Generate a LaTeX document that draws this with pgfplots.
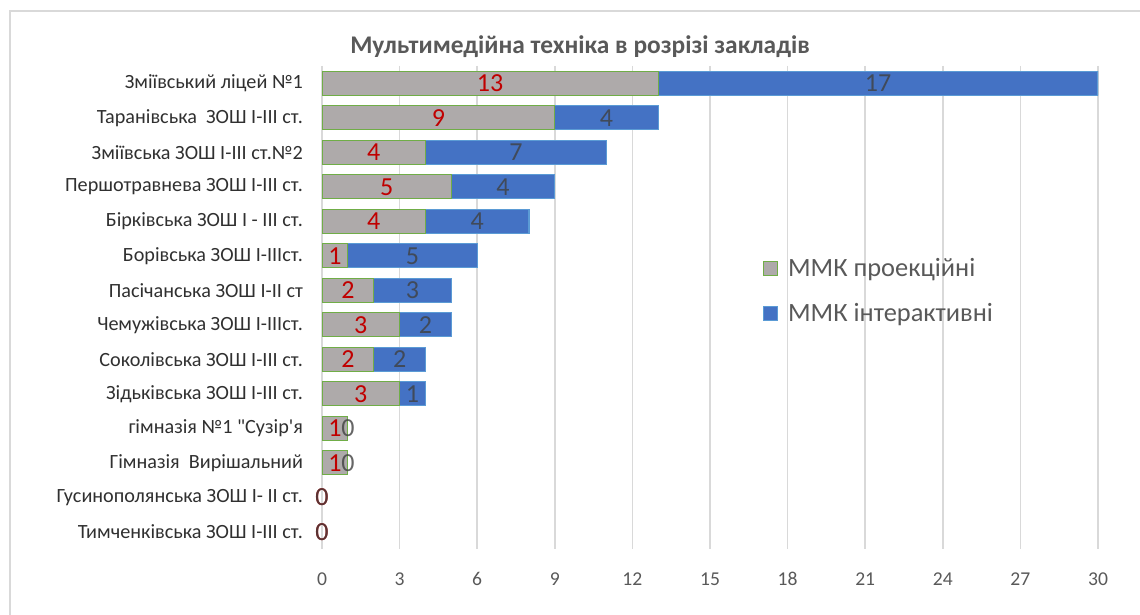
\documentclass[border=0pt]{standalone}
\usepackage{fontspec}
\setmainfont{Carlito}[Ligatures=TeXOff]
\usepackage{pgfplots}
\pgfplotsset{compat=1.18}
\usepackage{pgfplotstable}
\definecolor{projgray}{RGB}{174,170,170}
\definecolor{projedge}{RGB}{112,173,71}
\definecolor{interblue}{RGB}{68,114,196}
\definecolor{interedge}{RGB}{91,155,213}
\definecolor{gridgray}{RGB}{217,217,217}
\definecolor{txtgray}{RGB}{89,89,89}
\definecolor{catgray}{RGB}{48,48,48}
\definecolor{lblred}{RGB}{192,0,0}
\definecolor{lbldark}{RGB}{64,64,64}

% row, projection MMK, interactive MMK
\pgfplotstableread{
row a b
0 13 17
1 9 4
2 4 7
3 5 4
4 4 4
5 1 5
6 2 3
7 3 2
8 2 2
9 3 1
10 1 0
11 1 0
12 0 0
13 0 0
}\schools

\pgfplotsset{frame/.style={
  at={(161pt,33pt)}, anchor=south west,
  scale only axis, width=388pt, height=241.5pt,
  y dir=reverse,
  xmin=0, xmax=30, ymin=-0.5, ymax=13.5,
  axis line style={draw=none},
  major tick length=0pt}}

\begin{document}
\begin{tikzpicture}
\useasboundingbox (0,0) rectangle (570pt,307.5pt);
\draw[gridgray, line width=1.2pt] (4.9pt,0) -- (4.9pt,302pt) -- (570pt,302pt);
\node[font=\fontsize{12.7}{15}\selectfont\bfseries, text=txtgray] at (290pt,284pt)
  {Мультимедійна техніка в розрізі закладів};
\begin{axis}[frame,
  xbar stacked, bar width=0.7,
  xtick={0,3,...,30},
  ytick={0,...,13},
  yticklabels={
    Зміївський ліцей №1,
    Таранівська\ \ ЗОШ І-ІІІ ст.,
    Зміївська ЗОШ І-ІІІ ст.№2,
    Першотравнева ЗОШ І-ІІІ ст.,
    Бірківська ЗОШ І - ІІІ ст.,
    Борівська ЗОШ І-ІІІст.,
    Пасічанська ЗОШ І-ІІ ст,
    Чемужівська ЗОШ І-ІІІст.,
    Соколівська ЗОШ І-ІІІ ст.,
    Зідьківська ЗОШ І-ІІІ ст.,
    гімназія №1 "Сузір'я,
    Гімназія\ \ Вирішальний,
    Гусинополянська ЗОШ І- ІІ ст.,
    Тимченківська ЗОШ І-ІІІ ст.},
  xmajorgrids, grid style={gridgray, line width=0.8pt},
  /pgf/number format/assume math mode=true,
  xticklabel style={font=\fontsize{9.8}{11}\selectfont, text=txtgray,
    anchor=north, text height=1.6ex, text depth=0pt, yshift=-7pt},
  yticklabel style={font=\fontsize{10.1}{12}\selectfont, text=catgray, xshift=-6pt},
  legend cell align=left,
  legend style={at={(0.56,0.62)}, anchor=north west, draw=none, fill=none,
    font=\fontsize{13.2}{15}\selectfont, text=txtgray, row sep=8pt,
    /tikz/every odd column/.append style={column sep=3pt}},
  legend image code/.code={\draw[#1, line width=0.6pt] (0pt,-3.5pt) rectangle (7pt,3.5pt);},
]
\addplot[fill=projgray, draw=projedge, line width=0.6pt]
  table[x=a, y=row] {\schools};
\addlegendentry{ММК проекційні}
\addplot[fill=interblue, draw=interedge, line width=0.6pt]
  table[x=b, y=row] {\schools};
\addlegendentry{ММК інтерактивні}
\end{axis}
% value labels, centred in each segment
\begin{axis}[frame, xtick=\empty, ytick=\empty,
  nodes near coords, point meta=explicit,
  nodes near coords style={anchor=center, font=\fontsize{13}{15}\selectfont,
    /pgf/number format/assume math mode=true}]
\addplot[draw=none, mark=none, nodes near coords style={text=lblred}]
  table[x expr=\thisrow{a}/2, y=row, meta=a] {\schools};
\addplot[draw=none, mark=none, nodes near coords style={text=lbldark, text opacity=0.8}]
  table[x expr=\thisrow{a}+\thisrow{b}/2, y=row, meta=b] {\schools};
\end{axis}
\end{tikzpicture}
\end{document}
